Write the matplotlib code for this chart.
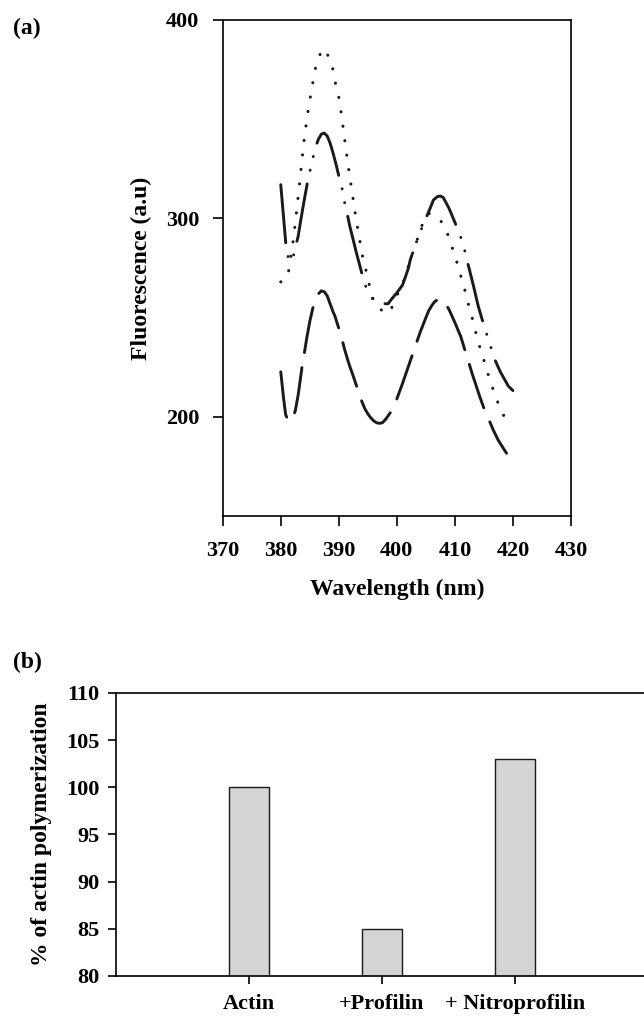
import matplotlib
matplotlib.use("Agg")
import matplotlib.pyplot as plt

# ── (a) fluorescence emission spectra ────────────────────────────────────
wl_dotted = [380, 380.5, 381, 381.3, 381.5, 381.8, 382, 382.3, 382.6, 383, 383.5, 384,
             384.5, 385, 385.5, 386, 386.5, 387, 387.5, 388, 388.5, 389, 389.5, 390,
             390.5, 391, 391.5, 392, 392.5, 393, 393.5, 394, 394.5, 395, 395.5, 396,
             396.5, 397, 397.5, 398, 398.6, 399, 399.5, 400, 401, 402, 403, 404, 404.5,
             405, 405.5, 406, 406.5, 407, 407.8, 408.5, 409, 409.7, 410.5, 411.2, 411.9,
             412.5, 413.2, 413.8, 414.5, 415.3, 416, 416.9, 417.8, 419.1]
fl_dotted = [268, 269, 270, 272, 277, 282, 285.5, 292.5, 300, 311, 325, 339,
             350, 359.5, 368, 376, 381, 384, 385.5, 383, 379.5, 375, 367, 361,
             351.5, 340, 329, 319, 309, 299, 291, 282, 276, 270, 263, 258.5,
             256, 254.5, 253.5, 253, 252.3, 254, 258, 261, 267, 276, 285, 293.5, 298,
             301.5, 302.5, 302, 301, 300, 298, 293.5, 290.6, 283.6, 276.5, 269, 262,
             254.7, 247.5, 240, 233, 225.8, 218.5, 211.3, 204, 196.9]

wl_dashdot = [380, 380.5, 380.85, 381.3, 381.7, 382.1, 382.4, 383, 383.5, 384, 384.7,
              385.5, 386, 386.5, 387, 387.5, 388, 388.5, 389, 389.5, 390, 390.4, 391,
              391.4, 391.9, 392.5, 393, 393.5, 394, 394.4, 395, 395.5, 396, 397, 398,
              398.5, 399, 400, 401, 402, 402.3, 403, 403.4, 404, 405, 406, 406.3, 407,
              407.5, 408, 409, 410, 411, 411.4, 412, 412.6, 413.2, 414, 415, 416, 416.7,
              417.8, 419.2, 420]
fl_dashdot = [317, 300, 288, 280, 278, 280, 284, 291, 300, 308.5, 319.7,
              330, 336, 340, 342.5, 343, 341.5, 338, 333, 327.5, 321.5, 317.7, 308,
              303, 296, 289, 283, 277.5, 272, 267.6, 263, 260.5, 259, 257.5, 257,
              257, 259, 262.5, 266.5, 275, 279, 285, 288.3, 293, 300, 307, 309.3, 311,
              311.3, 310.5, 305, 298, 290.5, 287.4, 280, 273, 266, 256, 246, 237, 230,
              222.8, 215.5, 213.2]

wl_dashed = [380, 380.5, 380.85, 381.3, 381.9, 382.5, 383, 383.4, 383.7, 384, 384.5, 385,
             385.5, 386, 386.5, 387, 387.5, 388, 388.5, 389, 389.3, 390, 390.5, 391,
             391.5, 392, 392.3, 393, 393.5, 394, 394.5, 395, 395.5, 396, 396.5, 397,
             397.5, 398, 398.5, 399, 400, 401, 402, 403, 404, 405, 405.5, 406, 406.5,
             407, 407.5, 408, 408.5, 409, 410, 411, 411.9, 413, 414.3, 415.1, 416, 416.6,
             417.5, 418.9]
fl_dashed = [222.7, 209, 201, 198, 198.4, 203, 211, 219.4, 226, 231, 240, 248,
             254.5, 259, 262, 263.5, 263, 261, 257, 253, 251, 244.6, 239.5, 234,
             229, 224.5, 222.2, 216, 211.5, 207.5, 204, 201.5, 199.5, 198, 197, 196.7,
             197, 198.5, 200.5, 202.6, 209, 217, 225.5, 234, 242.5, 250, 253.5, 256, 258,
             259, 259.2, 258.5, 256.5, 254, 247.5, 240.5, 232, 221.5, 210, 203.5, 197.5, 193.4,
             188, 181.6]

x_ticks_a = [370, 380, 390, 400, 410, 420, 430]
y_ticks_a = [200, 300, 400]

# ── (b) polymerization bars ──────────────────────────────────────────────
categories = ["Actin", "+Profilin", "+ Nitroprofilin"]
polymerization = [100, 85, 103]
y_ticks_b = [80, 85, 90, 95, 100, 105, 110]

plt.rcParams["font.family"] = ["Liberation Serif", "DejaVu Serif"]
plt.rcParams["font.weight"] = "bold"
plt.rcParams["axes.labelweight"] = "bold"
plt.rcParams["lines.scale_dashes"] = False

W, H = 644, 1019
fig = plt.figure(figsize=(W / 100, H / 100), dpi=100)

# panel (a)
ax = fig.add_axes([222.7 / W, 1 - 516 / H, (571 - 222.7) / W, (516 - 20) / H])
ax.plot(wl_dotted, fl_dotted, color="#1a1a1a", lw=2.2,
        linestyle=(0, (0.1, 10.4)), dash_capstyle="round")
ax.plot(wl_dashdot, fl_dashdot, color="#1a1a1a", lw=2.1,
        linestyle=(0, (42, 10, 0.1, 10, 0.1, 10)), dash_capstyle="round")
ax.plot(wl_dashed, fl_dashed, color="#1a1a1a", lw=2.1,
        linestyle=(0, (33, 11)), dash_capstyle="round")
ax.set_xlim(370, 430)
ax.set_ylim(150, 400)
ax.set_xticks(x_ticks_a)
ax.set_yticks(y_ticks_a)
ax.tick_params(direction="out", length=7, width=1.2, labelsize=16, pad=11)
ax.tick_params(axis="y", pad=10)
for s in ax.spines.values():
    s.set_linewidth(1.2)
ax.set_xlabel("Wavelength (nm)", fontsize=17, labelpad=13)
ax.set_ylabel("Fluorescence (a.u)", fontsize=17, labelpad=10)

# panel (b)
bx = fig.add_axes([116 / W, 1 - 976 / H, (648 - 116) / W, (976 - 693) / H])
bx.bar(range(1, len(categories) + 1), polymerization, width=0.3,
       color="#d4d4d4", edgecolor="#1a1a1a", linewidth=1.0)
bx.set_xlim(0, 4)
bx.set_ylim(80, 110)
bx.set_yticks(y_ticks_b)
bx.set_xticks(range(1, len(categories) + 1))
bx.set_xticklabels(categories)
bx.tick_params(direction="out", length=6, width=1.2, labelsize=16)
bx.tick_params(axis="x", pad=7)
bx.tick_params(axis="y", pad=6)
for s in bx.spines.values():
    s.set_linewidth(1.2)
bx.set_ylabel("% of actin polymerization", fontsize=17, labelpad=10)

fig.text(13 / W, 1 - 28 / H, "(a)", fontsize=17, fontweight="bold", va="center")
fig.text(13 / W, 1 - 662 / H, "(b)", fontsize=17, fontweight="bold", va="center")

fig.savefig("out.png", dpi=100)
